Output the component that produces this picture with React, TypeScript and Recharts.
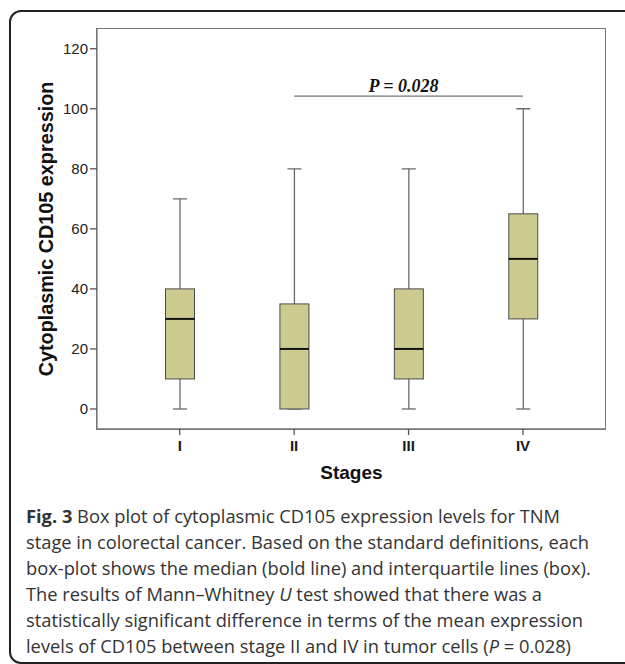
import React from "react";
import {
	ComposedChart,
	Bar,
	XAxis,
	YAxis,
	ReferenceLine,
} from "recharts";

// box plot values per stage
const stages = ["I", "II", "III", "IV"];
const minValues = [0, 0, 0, 0];
const q1Values = [10, 0, 10, 30];
const medianValues = [30, 20, 20, 50];
const q3Values = [40, 35, 40, 65];
const maxValues = [70, 80, 80, 100];

const yTicks = [0, 20, 40, 60, 80, 100, 120];
const sigLevel = 104.2;
const sigFrom = "II";
const sigTo = "IV";
const sigText = "P = 0.028";

const data = stages.map((stage, i) => ({
	stage,
	min: minValues[i],
	q1: q1Values[i],
	median: medianValues[i],
	q3: q3Values[i],
	max: maxValues[i],
}));

const axisFont = "Arial, 'Liberation Sans', sans-serif";

const BoxShape = (props: any) => {
	const { x, y, width, height, payload } = props;
	const top = Math.min(y, y + height);
	const bottom = Math.max(y, y + height);
	const span = payload.max - payload.min || 1;
	const toPx = (v: number) =>
		bottom - ((v - payload.min) / span) * (bottom - top);
	const cx = x + width / 2;
	const capHalf = 7;
	const boxTop = toPx(payload.q3);
	const boxBottom = toPx(payload.q1);
	const med = toPx(payload.median);
	return (
		<g>
			<line x1={cx} x2={cx} y1={top} y2={bottom} stroke="#6a6a6a" strokeWidth={1.3} />
			<line x1={cx - capHalf} x2={cx + capHalf} y1={top} y2={top} stroke="#6a6a6a" strokeWidth={1.3} />
			<line x1={cx - capHalf} x2={cx + capHalf} y1={bottom} y2={bottom} stroke="#6a6a6a" strokeWidth={1.3} />
			<rect
				x={x}
				y={boxTop}
				width={width}
				height={boxBottom - boxTop}
				fill="#cecb91"
				stroke="#4a4a4a"
				strokeWidth={1}
			/>
			<line x1={x} x2={x + width} y1={med} y2={med} stroke="#111" strokeWidth={2} />
		</g>
	);
};

const App: React.FC = () => {
	return (
		<div
			style={{
				position: "absolute",
				left: 0,
				top: 0,
				width: 625,
				height: 664,
				overflow: "hidden",
				background: "#fff",
			}}
		>
			<div
				style={{
					position: "absolute",
					left: 9,
					top: 10,
					width: 660,
					height: 650,
					border: "2px solid #222",
					borderRadius: 12,
				}}
			/>
			{/* plot frame */}
			<div
				style={{
					position: "absolute",
					left: 96.35,
					top: 28.05,
					width: 510,
					height: 401.6,
					border: "1.3px solid #777",
					boxSizing: "border-box",
				}}
			/>
			<div style={{ position: "absolute", left: 0, top: 0 }}>
				<ComposedChart
					width={625}
					height={470}
					data={data}
					margin={{ top: 28.7, right: 19.3, left: 0, bottom: 11 }}
				>
					<XAxis
						dataKey="stage"
						height={30}
						padding={{ left: 25.5, right: 25.5 }}
						axisLine={{ stroke: "#777", strokeWidth: 1.3 }}
						tickLine={{ stroke: "#555", strokeWidth: 1.3 }}
						tickSize={6}
						tickMargin={5}
						fontSize={15}
						fontWeight={700}
						fontFamily={axisFont}
						tick={{ fill: "#1a1a1a", fontSize: 15, fontWeight: 700, fontFamily: axisFont }}
					/>
					<YAxis
						width={97}
						domain={[-6.67, 126.67]}
						ticks={yTicks}
						allowDataOverflow
						axisLine={{ stroke: "#777", strokeWidth: 1.3 }}
						tickLine={{ stroke: "#555", strokeWidth: 1.3 }}
						tickSize={7}
						tickMargin={2}
						fontSize={15}
						fontFamily={axisFont}
						tick={{ fill: "#222", fontSize: 15, fontFamily: axisFont }}
					/>
					<Bar
						dataKey={(d: any) => [d.min, d.max]}
						barSize={29}
						shape={BoxShape}
						isAnimationActive={false}
					/>
					<ReferenceLine
						segment={[
							{ x: sigFrom, y: sigLevel },
							{ x: sigTo, y: sigLevel },
						]}
						stroke="#777"
						strokeWidth={1.3}
						label={{
							value: sigText,
							position: "top",
							offset: 4,
							dx: -5,
							fill: "#111",
							fontSize: 18,
							fontWeight: 700,
							fontStyle: "italic",
							fontFamily: "'Liberation Serif', 'Times New Roman', serif",
						}}
					/>
				</ComposedChart>
			</div>
			<div
				style={{
					position: "absolute",
					left: 46,
					top: 229,
					transform: "translate(-50%, -50%) rotate(-90deg)",
					whiteSpace: "nowrap",
					fontFamily: axisFont,
					fontWeight: 700,
					fontSize: 19.8,
					color: "#111",
				}}
			>
				Cytoplasmic CD105 expression
			</div>
			<div
				style={{
					position: "absolute",
					left: 351.4,
					top: 473,
					transform: "translate(-50%, -50%)",
					whiteSpace: "nowrap",
					fontFamily: axisFont,
					fontWeight: 700,
					fontSize: 19,
					color: "#111",
				}}
			>
				Stages
			</div>
			<div
				style={{
					position: "absolute",
					left: 26,
					top: 503,
					whiteSpace: "nowrap",
					fontFamily: "'Open Sans', 'Noto Sans', sans-serif",
					fontSize: 18.3,
					lineHeight: "25.9px",
					color: "#333",
				}}
			>
				<b>Fig. 3</b> Box plot of cytoplasmic CD105 expression levels for TNM
				<br />
				stage in colorectal cancer. Based on the standard definitions, each
				<br />
				box-plot shows the median (bold line) and interquartile lines (box).
				<br />
				The results of Mann–Whitney <i>U</i> test showed that there was a
				<br />
				statistically significant difference in terms of the mean expression
				<br />
				levels of CD105 between stage II and IV in tumor cells (<i>P</i> = 0.028)
			</div>
		</div>
	);
};

export default App;
